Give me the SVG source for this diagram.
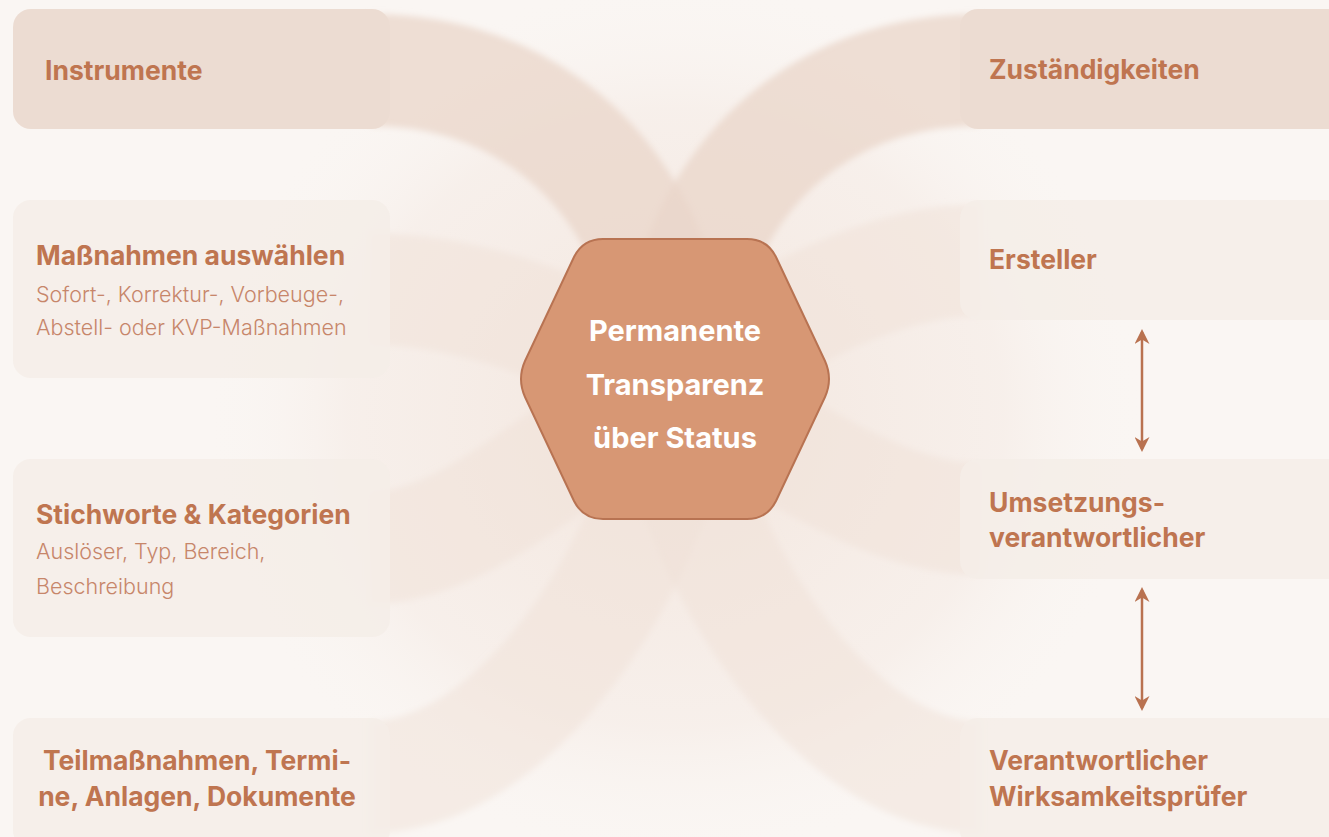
<svg xmlns="http://www.w3.org/2000/svg" width="1329" height="837" viewBox="0 0 1329 837">
<defs>
<style>
.bg{fill:#faf6f3}
.band{fill:none;stroke:#e9d6ca;stroke-width:112;stroke-linecap:butt;opacity:0.75}
.bandf{fill:none;stroke:#efe1d8;stroke-width:112;opacity:0.5}
.boxA{fill:#ecdcd2}
.boxB{fill:#f5ede8;opacity:0.85}
.t{font-family:"Inter","Roboto","Liberation Sans",sans-serif;font-weight:700;font-size:26.5px;fill:#bf7550}
.s{font-family:"Inter","Roboto","Liberation Sans",sans-serif;font-weight:300;font-size:21.5px;fill:#c7866a}
.h{font-family:"Inter","Roboto","Liberation Sans",sans-serif;font-weight:700;font-size:29px;fill:#ffffff}
.arr{stroke:#b97250;stroke-width:2.5;fill:none;marker-start:url(#ah);marker-end:url(#ah)}
</style>
<marker id="ah" viewBox="0 0 10 10" refX="8" refY="5" markerWidth="6" markerHeight="6" orient="auto-start-reverse" markerUnits="strokeWidth">
<path d="M0,0 L10,5 L0,10 L3,5 Z" fill="#b97250"/>
</marker>
<radialGradient id="glow" cx="0.5" cy="0.5" r="0.5">
<stop offset="0" stop-color="#f2e4db" stop-opacity="0.9"/>
<stop offset="0.7" stop-color="#f5ebe5" stop-opacity="0.6"/>
<stop offset="1" stop-color="#faf6f3" stop-opacity="0"/>
</radialGradient>
<filter id="soft" x="-20%" y="-20%" width="140%" height="140%"><feGaussianBlur stdDeviation="3"/></filter>
</defs>
<rect class="bg" x="0" y="0" width="1329" height="837"/>
<ellipse cx="675" cy="420" rx="470" ry="440" fill="url(#glow)"/>
<g id="connectors" filter="url(#soft)">
<path class="band" d="M 370 70 C 500 70 615 140 662 290"/>
<path class="bandf" d="M 370 289 C 470 289 570 330 650 370"/>
<path class="bandf" d="M 370 548 C 470 548 570 440 650 400"/>
<path class="bandf" d="M 370 777 C 500 777 620 610 662 470"/>
<path class="band" d="M 980 70 C 850 70 735 140 688 290"/>
<path class="bandf" d="M 980 260 C 880 260 780 320 700 370"/>
<path class="bandf" d="M 980 519 C 880 519 780 440 700 400"/>
<path class="bandf" d="M 980 777 C 850 777 730 610 688 470"/>
</g>
<g id="arrows">
<line class="arr" x1="1142" y1="332" x2="1142" y2="449"/>
<line class="arr" x1="1142" y1="590" x2="1142" y2="708"/>
</g>
<g id="n-instrumente">
<rect class="boxA" x="13" y="9" width="377" height="120" rx="18"/>
<text class="t" x="45" y="80">Instrumente</text>
</g>
<g id="n-massnahmen">
<rect class="boxB" x="13" y="200" width="377" height="178" rx="18"/>
<text class="t" x="36" y="265">Maßnahmen auswählen</text>
<text class="s" x="36" y="302">Sofort-, Korrektur-, Vorbeuge-,</text>
<text class="s" x="36" y="335">Abstell- oder KVP-Maßnahmen</text>
</g>
<g id="n-stichworte">
<rect class="boxB" x="13" y="459" width="377" height="178" rx="18"/>
<text class="t" x="36" y="524">Stichworte &amp; Kategorien</text>
<text class="s" x="36" y="559">Auslöser, Typ, Bereich,</text>
<text class="s" x="36" y="594">Beschreibung</text>
</g>
<g id="n-teil">
<rect class="boxB" x="13" y="718" width="377" height="130" rx="18"/>
<text class="t" x="197" y="770" text-anchor="middle">Teilmaßnahmen, Termi-</text>
<text class="t" x="197" y="806" text-anchor="middle">ne, Anlagen, Dokumente</text>
</g>
<g id="n-zustaendig">
<rect class="boxA" x="960" y="9" width="390" height="120" rx="18"/>
<text class="t" x="989" y="79">Zuständigkeiten</text>
</g>
<g id="n-ersteller">
<rect class="boxB" x="960" y="200" width="390" height="120" rx="18"/>
<text class="t" x="989" y="269">Ersteller</text>
</g>
<g id="n-umsetzung">
<rect class="boxB" x="960" y="459" width="390" height="120" rx="18"/>
<text class="t" x="989" y="512">Umsetzungs-</text>
<text class="t" x="989" y="547">verantwortlicher</text>
</g>
<g id="n-pruefer">
<rect class="boxB" x="960" y="718" width="390" height="130" rx="18"/>
<text class="t" x="989" y="770">Verantwortlicher</text>
<text class="t" x="989" y="806">Wirksamkeitsprüfer</text>
</g>
<g id="n-center">
<path d="M 603 239 L 747 239 Q 767 239 776 257 L 825 361 Q 833 379 825 397 L 776 501 Q 767 519 747 519 L 603 519 Q 583 519 574 501 L 525 397 Q 517 379 525 361 L 574 257 Q 583 239 603 239 Z" fill="#d79774" stroke="#b87352" stroke-width="2"/>
<text class="h" x="675" y="341" text-anchor="middle">Permanente</text>
<text class="h" x="675" y="395" text-anchor="middle">Transparenz</text>
<text class="h" x="675" y="448" text-anchor="middle">über Status</text>
</g>
</svg>
